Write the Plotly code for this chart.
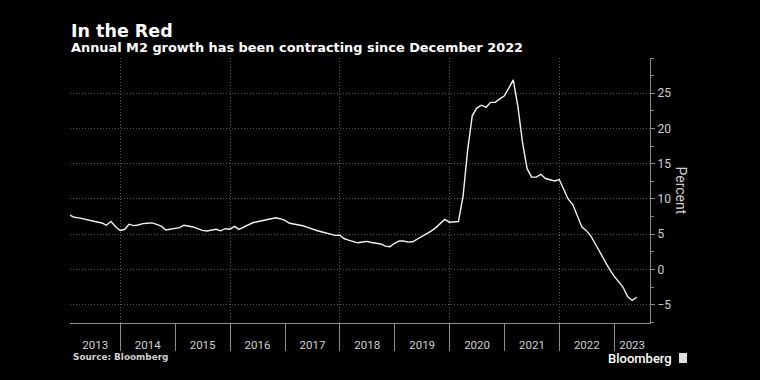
import plotly.graph_objects as go
import pandas as pd

# Monthly annual M2 growth (%), month-end, Jan 2013 .. May 2023
start_month = "2013-01-31"
m2_growth = [
    7.69, 7.40, 7.31, 7.14, 6.99, 6.86, 6.73, 6.59, 6.28, 6.80, 6.05, 5.52,   # 2013
    5.70, 6.42, 6.22, 6.30, 6.50, 6.55, 6.60, 6.40, 6.15, 5.60, 5.70, 5.88,   # 2014
    5.94, 6.27, 6.15, 6.03, 5.78, 5.55, 5.45, 5.54, 5.70, 5.48, 5.78, 5.71,   # 2015
    6.10, 5.68, 6.03, 6.35, 6.62, 6.76, 6.89, 7.03, 7.18, 7.33, 7.20, 6.95,   # 2016
    6.55, 6.45, 6.35, 6.20, 5.98, 5.72, 5.52, 5.34, 5.20, 5.06, 4.83, 4.85,   # 2017
    4.35, 4.15, 3.97, 3.78, 3.89, 3.98, 3.82, 3.73, 3.61, 3.30, 3.23, 3.71,   # 2018
    4.05, 4.03, 3.87, 3.93, 4.30, 4.76, 5.10, 5.44, 5.90, 6.48, 7.10, 6.70,   # 2019
    6.75, 6.80, 10.4, 16.9, 21.8, 22.9, 23.3, 23.0, 23.7, 23.7, 24.2, 24.65,  # 2020
    25.8, 26.9, 23.1, 18.1, 14.3, 13.1, 13.1, 13.5, 12.9, 12.7, 12.55, 12.75, # 2021
    11.3, 10.0, 9.2, 7.5, 6.0, 5.5, 4.7, 3.5, 2.35, 1.2, 0.05, -0.95,         # 2022
    -1.7, -2.5, -3.85, -4.4, -3.95,                                           # 2023
]
dates = pd.date_range(start_month, periods=len(m2_growth), freq="ME")

years = list(range(2013, 2024))
year_labels = [str(y) for y in years]
y_ticks = [-5, 0, 5, 10, 15, 20, 25]
x_range = ["2013-01-31", "2023-08-27"]
y_range = [-7.6, 30]

title = "In the Red"
subtitle = "Annual M2 growth has been contracting since December 2022"
source = "Source: Bloomberg"

# year boundaries and clipped midpoints for labels
r0, r1 = pd.Timestamp(x_range[0]), pd.Timestamp(x_range[1])
bounds = [pd.Timestamp(f"{y}-01-01") for y in years[1:]]
mids = []
for y in years:
    a = max(pd.Timestamp(f"{y}-01-01"), r0)
    b = min(pd.Timestamp(f"{y + 1}-01-01"), r1)
    mids.append(a + (b - a) / 2)
grid_years = [pd.Timestamp(f"{y}-01-01") for y in years if y % 2 == 0]

GRID = "#5a5a5a"
AXIS = "#8c8c8c"
TXT = "#d0d0d0"
DOTS = "1px,2px"
HEAD = "DejaVu Sans"

fig = go.Figure()
fig.add_trace(go.Scatter(x=dates, y=m2_growth, mode="lines",
                         line=dict(color="#f2f2f2", width=1.4),
                         hoverinfo="skip", showlegend=False))
fig.add_trace(go.Scatter(x=dates, y=m2_growth, mode="lines", xaxis="x2",
                         line=dict(color="rgba(0,0,0,0)", width=0),
                         hoverinfo="skip", showlegend=False))

fig.update_layout(
    width=760, height=380,
    paper_bgcolor="black", plot_bgcolor="black",
    margin=dict(l=70, r=110, t=58, b=57),
    font=dict(family="Roboto", color=TXT, size=12),
    xaxis=dict(type="date", range=x_range, tickmode="array", tickvals=bounds,
               ticks="outside", ticklen=27, tickcolor=AXIS, tickwidth=1,
               showticklabels=False, showgrid=False, zeroline=False,
               showline=True, linecolor=AXIS, linewidth=1,
               minor=dict(tickmode="array", tickvals=grid_years, showgrid=True,
                          gridcolor=GRID, griddash=DOTS, gridwidth=1, ticks="")),
    xaxis2=dict(type="date", range=x_range, overlaying="x", side="bottom",
                tickmode="array", tickvals=mids, ticktext=year_labels,
                ticks="outside", ticklen=11, tickcolor="rgba(0,0,0,0)",
                showgrid=False, showline=False, zeroline=False,
                tickfont=dict(family="Roboto", size=11.5, color=TXT)),
    yaxis=dict(side="right", range=y_range, tickmode="array", tickvals=y_ticks,
               ticks="outside", ticklen=4, tickcolor=AXIS,
               showline=True, linecolor=AXIS, linewidth=1, zeroline=False,
               showgrid=True, gridcolor=GRID, griddash=DOTS, gridwidth=1,
               tickfont=dict(family="Roboto", size=12, color=TXT),
               minor=dict(dtick=2.5, tick0=0, ticks="outside", ticklen=3,
                          tickcolor=AXIS, showgrid=False)),
    showlegend=False,
)

fig.add_annotation(text=title, xref="paper", yref="paper", x=0, y=1,
                   xanchor="left", yanchor="bottom", showarrow=False,
                   font=dict(family=HEAD, size=17.5, color="white", weight="bold"),
                   xshift=-1, yshift=15)
fig.add_annotation(text=subtitle, xref="paper", yref="paper", x=0, y=1,
                   xanchor="left", yanchor="bottom", showarrow=False,
                   font=dict(family=HEAD, size=12.9, color="white", weight="bold"),
                   xshift=-1, yshift=1)
fig.add_annotation(text="Percent", xref="paper", yref="paper", x=1, y=0.5,
                   xanchor="left", yanchor="middle", showarrow=False, textangle=90,
                   font=dict(family="Roboto", size=14, color=TXT), xshift=21)
fig.add_annotation(text=source, xref="paper", yref="paper", x=0, y=0,
                   xanchor="left", yanchor="middle", showarrow=False,
                   font=dict(family=HEAD, size=8.9, color=TXT, weight="bold"),
                   xshift=1, yshift=-34)
fig.add_annotation(text="Bloomberg", xref="paper", yref="paper", x=1, y=0,
                   xanchor="right", yanchor="middle", showarrow=False,
                   font=dict(family="Roboto", size=13, color="white", weight=500),
                   xshift=24, yshift=-35)
fig.add_shape(type="rect", xref="paper", yref="paper",
              x0=1 + 29 / 580, x1=1 + 37 / 580, y0=-40 / 265, y1=-30 / 265,
              fillcolor="#dddddd", line=dict(width=0))

fig.write_html("out.html", config={"displayModeBar": False},
               post_script="document.body.style.margin='0';document.body.style.overflow='hidden';")
